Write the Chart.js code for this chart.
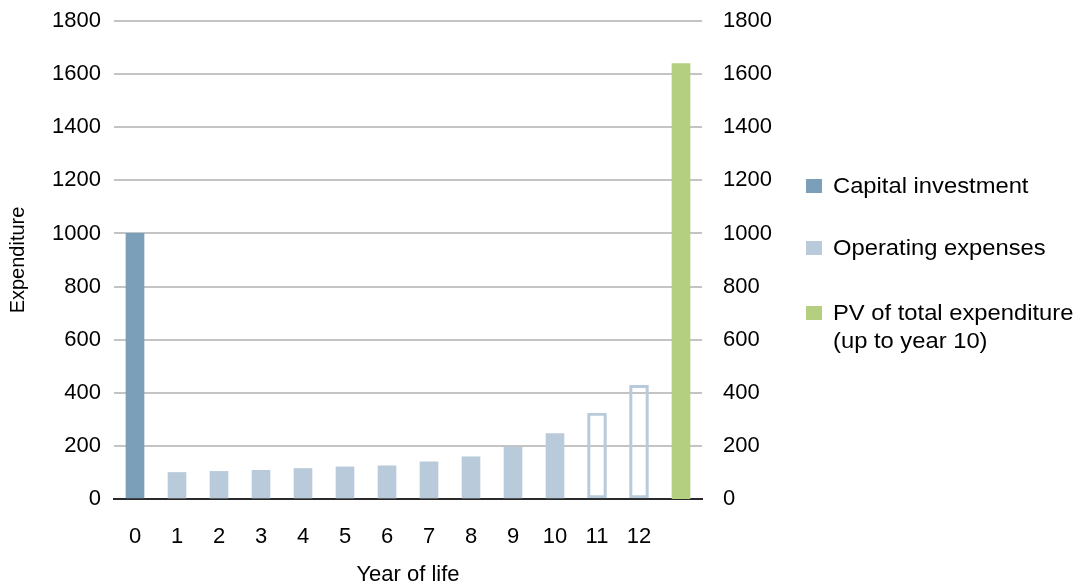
<!DOCTYPE html>
<html>
<head>
<meta charset="utf-8">
<script src="https://cdn.jsdelivr.net/npm/chart.js@4/dist/chart.umd.min.js"></script>
<style>
  html, body { margin: 0; padding: 0; background: #fff; }
  #wrap { position: relative; width: 1082px; height: 588px; }
  canvas { position: absolute; left: 0; top: 0; }
  .lg { position: absolute; left: 806px; font-family: "Liberation Sans", Arial, sans-serif; font-size: 22px; color: #000; line-height: 28px; }
  .lg .sw { position: absolute; left: 0; width: 16px; height: 14px; }
  .lg .tx { position: absolute; left: 27px; white-space: nowrap; transform: scaleX(1.08); transform-origin: left center; }
</style>
</head>
<body>
<div id="wrap">
  <canvas id="c" width="1082" height="588"></canvas>
  <div id="legend"></div>
</div>
<script>
const categories = ['0','1','2','3','4','5','6','7','8','9','10','11','12',''];
const capitalInvestment = [1000, null, null, null, null, null, null, null, null, null, null, null, null, null];
const operatingExpenses = [null, 100, 104, 108, 115, 121, 125, 140, 159, 195, 246, null, null, null];
const projectedExpenses = [null, null, null, null, null, null, null, null, null, null, null, 324, 429, null];
const pvTotalExpenditure = [null, null, null, null, null, null, null, null, null, null, null, null, null, 1640];
const yTickValues = [0, 200, 400, 600, 800, 1000, 1200, 1400, 1600, 1800];
const legendLabels = [['Capital investment'], ['Operating expenses'], ['PV of total expenditure', '(up to year 10)']];

const COL_CAP = '#7b9fb9';
const COL_OP = '#b9cbda';
const COL_PV = '#b4cf80';
const FONT = '"Liberation Sans", Arial, sans-serif';

const yMin = yTickValues[0], yMax = yTickValues[yTickValues.length - 1];
const yStep = yTickValues[1] - yTickValues[0];
const plain = v => String(v);

const ctx = document.getElementById('c').getContext('2d');
new Chart(ctx, {
  type: 'bar',
  data: {
    labels: categories,
    datasets: [
      { label: legendLabels[0].join(' '), data: capitalInvestment, backgroundColor: COL_CAP, barThickness: 18, grouped: false, yAxisID: 'y' },
      { label: legendLabels[1].join(' '), data: operatingExpenses, backgroundColor: COL_OP, barThickness: 18, grouped: false, yAxisID: 'y' },
      { label: 'Projected', data: projectedExpenses, backgroundColor: 'rgba(255,255,255,0)', borderColor: COL_OP, borderWidth: 2.5, borderSkipped: false, barThickness: 19, grouped: false, yAxisID: 'y' },
      { label: legendLabels[2].join(' '), data: pvTotalExpenditure, backgroundColor: COL_PV, barThickness: 18, grouped: false, yAxisID: 'y2' }
    ]
  },
  options: {
    responsive: false,
    animation: false,
    layout: { padding: { top: 21, right: 292, bottom: 0, left: 0 } },
    plugins: { legend: { display: false }, tooltip: { enabled: false } },
    scales: {
      x: {
        grid: { display: false, drawTicks: false },
        border: { display: true, color: '#2a2a2a', width: 2 },
        ticks: { color: '#000', font: { family: FONT, size: 22 }, padding: 25 },
        title: { display: true, text: 'Year of life', color: '#000', font: { family: FONT, size: 22 }, padding: { top: 0, bottom: 0 } },
        afterFit(s) { s.height = 89; s.paddingLeft = 0; s.paddingRight = 0; }
      },
      y: {
        position: 'left',
        min: yMin, max: yMax,
        afterBuildTicks(s) { s.ticks = yTickValues.map(v => ({ value: v })); },
        grid: {
          drawTicks: false,
          lineWidth: 2,
          color: c => (c.tick && c.tick.value === 0) ? '#2a2a2a' : '#c4c4c4'
        },
        border: { display: false },
        ticks: { color: '#000', font: { family: FONT, size: 22 }, padding: 13, stepSize: yStep, callback: plain },
        title: { display: true, text: 'Expenditure', color: '#000', font: { family: FONT, size: 20 }, padding: { top: 6, bottom: 0 } },
        afterFit(s) { s.width = 114; s.paddingTop = 0; s.paddingBottom = 0; }
      },
      y2: {
        position: 'right',
        min: yMin, max: yMax,
        afterBuildTicks(s) { s.ticks = yTickValues.map(v => ({ value: v })); },
        grid: { display: false, drawTicks: false },
        border: { display: false },
        ticks: { color: '#000', font: { family: FONT, size: 22 }, padding: 21, stepSize: yStep, callback: plain },
        afterFit(s) { s.width = 88; s.paddingTop = 0; s.paddingBottom = 0; }
      }
    }
  }
});

// HTML legend
const legendColors = [COL_CAP, COL_OP, COL_PV];
const legendTops = [186, 248, 313];
const lg = document.getElementById('legend');
legendLabels.forEach((lines, i) => {
  const d = document.createElement('div');
  d.className = 'lg';
  d.style.top = (legendTops[i] - 14) + 'px';
  const sw = document.createElement('div');
  sw.className = 'sw';
  sw.style.background = legendColors[i];
  sw.style.top = '7px';
  d.appendChild(sw);
  const tx = document.createElement('div');
  tx.className = 'tx';
  tx.innerHTML = lines.map(l => l.replace(/&/g, '&amp;').replace(/</g, '&lt;')).join('<br>');
  d.appendChild(tx);
  lg.appendChild(d);
});
</script>
</body>
</html>
